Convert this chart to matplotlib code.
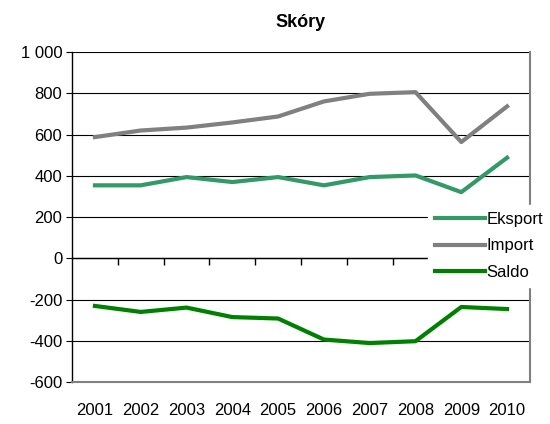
import matplotlib.pyplot as plt
import matplotlib.ticker as mticker

years = ["2001", "2002", "2003", "2004", "2005", "2006", "2007", "2008", "2009", "2010"]
eksport = [354, 354, 394, 370, 394, 354, 394, 402, 321, 488]
importy = [588, 620, 634, 659, 688, 761, 798, 806, 564, 737]
saldo = [-231, -260, -239, -285, -292, -394, -411, -402, -236, -246]

EKSPORT_COLOR = "#339966"
IMPORT_COLOR = "#808080"
SALDO_COLOR = "#008000"

plt.rcParams.update({"font.family": ["Liberation Sans", "DejaVu Sans"], "font.size": 12})

fig = plt.figure(figsize=(5.5, 4.24), dpi=100)
ax = fig.add_axes([0.131, 0.099, 0.8326, 0.778])

x = list(range(len(years)))
ax.plot(x, eksport, color=EKSPORT_COLOR, linewidth=3, label="Eksport", zorder=3)
ax.plot(x, importy, color=IMPORT_COLOR, linewidth=3, label="Import", zorder=3)
ax.plot(x, saldo, color=SALDO_COLOR, linewidth=3, label="Saldo", zorder=3)

ax.set_xlim(-0.5, len(years) - 0.5)
ax.set_ylim(-600, 1000)
ax.yaxis.set_major_locator(mticker.MultipleLocator(200))
ax.yaxis.set_major_formatter(
    mticker.FuncFormatter(lambda v, _: f"{int(v):,}".replace(",", " "))
)
ax.grid(axis="y", color="black", linewidth=0.8)
ax.set_axisbelow(True)

ax.set_xticks(x)
ax.set_xticklabels(years)
ax.tick_params(axis="x", length=0, pad=15, labelsize=12)
ax.tick_params(axis="y", length=4, width=0.8, direction="out", pad=3, labelsize=12)

ax.spines["top"].set_visible(False)
ax.spines["left"].set_color("black")
ax.spines["left"].set_linewidth(1)
ax.spines["right"].set_color("#808080")
ax.spines["right"].set_linewidth(1.5)
ax.spines["bottom"].set_color("#808080")
ax.spines["bottom"].set_linewidth(1.5)

# zero axis with category boundary ticks
zero_frac = 600 / 1600
sec = ax.secondary_xaxis(zero_frac)
sec.set_xticks([i + 0.5 for i in x[:-1]])
sec.set_xticklabels([])
sec.tick_params(axis="x", length=5, width=1, direction="out", color="black")
sec.spines["bottom"].set_color("black")
sec.spines["bottom"].set_linewidth(1)

ax.set_title("Skóry", fontsize=13, fontweight="bold", pad=18)

leg = fig.legend(
    loc="upper left",
    bbox_to_anchor=(0.763, 0.536),
    frameon=True,
    fancybox=False,
    facecolor="white",
    edgecolor="white",
    framealpha=1,
    handlelength=3.0,
    handletextpad=0.1,
    labelspacing=0.7,
    borderpad=0.4,
    fontsize=12,
)

fig.savefig("out.png", dpi=100)
